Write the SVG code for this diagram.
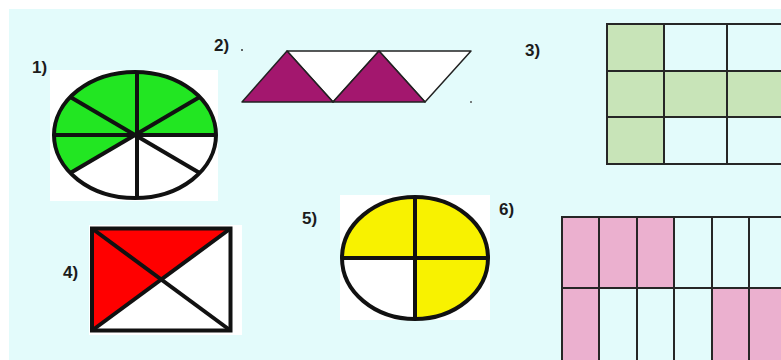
<svg xmlns="http://www.w3.org/2000/svg" width="781" height="360" viewBox="0 0 781 360">
<style>
.lbl{font-family:"Liberation Sans",Arial,sans-serif;font-weight:bold;font-size:17px;fill:#1c1c1c}
.thick{stroke:#111;stroke-width:4;fill:none}
.grid{stroke:#262626;stroke-width:2;fill:none}
.tri{stroke:#222;stroke-width:1.5;stroke-linejoin:round}
</style>
<rect width="781" height="360" fill="#ffffff"/>
<rect x="9" y="9" width="772" height="351" fill="#e3fbfb"/>

<g id="fig1">
<text class="lbl" x="32" y="73">1)</text>
<rect x="50" y="70" width="168" height="131" fill="#ffffff"/>
<ellipse cx="135" cy="135" rx="81" ry="63" fill="#ffffff"/>
<path d="M135,135 L70.3,172.9 A81,63 0 1 1 216,135 Z" fill="#22e622"/>
<g class="thick">
<line x1="54" y1="135" x2="216" y2="135"/>
<line x1="137" y1="72" x2="137" y2="198"/>
<line x1="70.3" y1="97.1" x2="199.7" y2="172.9"/>
<line x1="199.7" y1="97.1" x2="70.3" y2="172.9"/>
<ellipse cx="135" cy="135" rx="81" ry="63"/>
</g>
</g>

<g id="fig2">
<text class="lbl" x="214" y="51">2)</text>
<circle cx="242" cy="50" r="1" fill="#333"/>
<circle cx="471" cy="102" r="1" fill="#555"/>
<polygon class="tri" points="287,51 379,51 333,102" fill="#ffffff"/>
<polygon class="tri" points="379,51 471,51 425,102" fill="#ffffff"/>
<polygon class="tri" points="242,102 287,51 333,102" fill="#a3176e"/>
<polygon class="tri" points="333,102 379,51 425,102" fill="#a3176e"/>
</g>

<g id="fig3">
<text class="lbl" x="525" y="56">3)</text>
<rect x="607" y="24" width="57" height="140" fill="#c8e4b8"/>
<rect x="664" y="71" width="117" height="46" fill="#c8e4b8"/>
<g class="grid">
<line x1="607" y1="24" x2="781" y2="24"/>
<line x1="607" y1="71" x2="781" y2="71"/>
<line x1="607" y1="117" x2="781" y2="117"/>
<line x1="607" y1="164" x2="781" y2="164"/>
<line x1="607" y1="23" x2="607" y2="165"/>
<line x1="664" y1="24" x2="664" y2="164"/>
<line x1="727" y1="24" x2="727" y2="164"/>
</g>
</g>

<g id="fig4">
<text class="lbl" x="63" y="278">4)</text>
<rect x="89" y="225" width="153" height="110" fill="#ffffff"/>
<polygon points="92,228.5 230.5,228.5 161.2,279.5" fill="#ff0000"/>
<polygon points="92,228.5 92,330.5 161.2,279.5" fill="#ff0000"/>
<g class="thick">
<rect x="92" y="228.5" width="138.5" height="102"/>
<line x1="92" y1="228.5" x2="230.5" y2="330.5"/>
<line x1="230.5" y1="228.5" x2="92" y2="330.5"/>
</g>
</g>

<g id="fig5">
<text class="lbl" x="302" y="224">5)</text>
<rect x="340" y="195" width="150" height="125" fill="#ffffff"/>
<ellipse cx="415" cy="258" rx="73" ry="61" fill="#ffffff"/>
<path d="M415,258 L342,258 A73,61 0 1 1 415,319 Z" fill="#f8f200"/>
<g class="thick">
<line x1="342" y1="258" x2="488" y2="258"/>
<line x1="415" y1="197" x2="415" y2="319"/>
<ellipse cx="415" cy="258" rx="73" ry="61"/>
</g>
</g>

<g id="fig6">
<text class="lbl" x="499" y="215">6)</text>
<rect x="562" y="217" width="112" height="71" fill="#ebb0cf"/>
<rect x="562" y="288" width="37" height="72" fill="#ebb0cf"/>
<rect x="712" y="288" width="69" height="72" fill="#ebb0cf"/>
<g class="grid">
<line x1="562" y1="217" x2="781" y2="217"/>
<line x1="562" y1="288" x2="781" y2="288"/>
<line x1="562" y1="216" x2="562" y2="360"/>
<line x1="599" y1="217" x2="599" y2="360"/>
<line x1="637" y1="217" x2="637" y2="360"/>
<line x1="674" y1="217" x2="674" y2="360"/>
<line x1="712" y1="217" x2="712" y2="360"/>
<line x1="749" y1="217" x2="749" y2="360"/>
</g>
</g>
</svg>
